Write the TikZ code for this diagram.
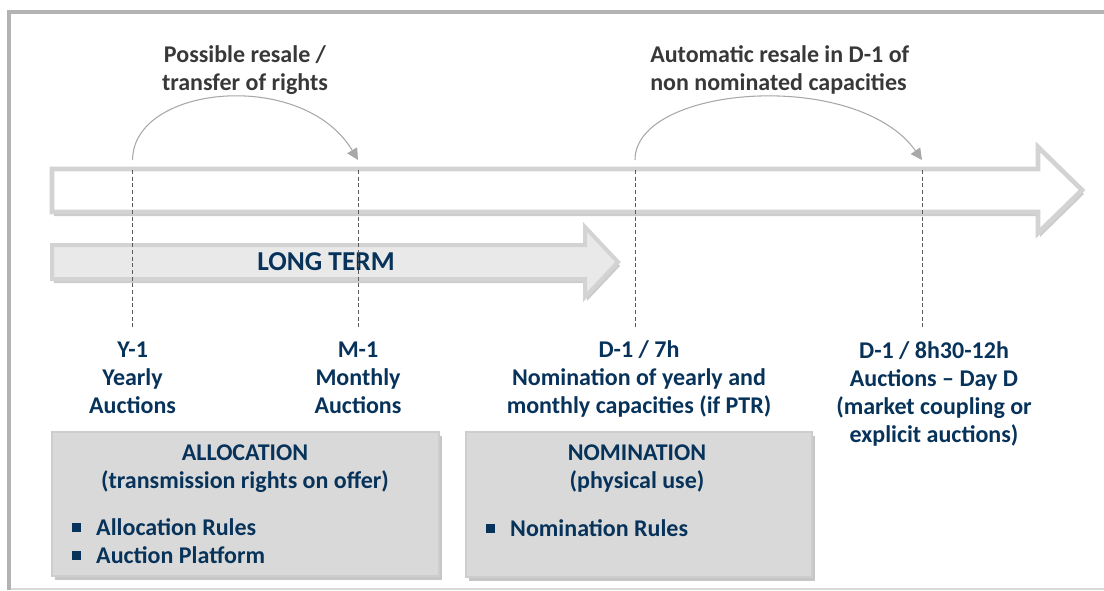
\documentclass[tikz,border=0pt]{standalone}
\usepackage{fontspec}
\setmainfont{Carlito}
\usetikzlibrary{shadows,arrows.meta}
\definecolor{navy}{HTML}{07325A}
\definecolor{darktxt}{HTML}{383838}
\definecolor{arrowline}{HTML}{D3D3D3}
\definecolor{ltfill}{HTML}{E9E9E9}
\definecolor{boxfill}{HTML}{D9D9D9}
\definecolor{boxline}{HTML}{CDCDCD}
\definecolor{framegray}{HTML}{B3B3B3}
\definecolor{arcgray}{HTML}{A8A8A8}
\definecolor{dashgray}{HTML}{5A5A5A}
\tikzset{
  lbl/.style={font=\fontsize{18}{21}\selectfont\bfseries, text=navy, align=center, inner sep=0pt},
  toptxt/.style={font=\fontsize{18}{21}\selectfont\bfseries, text=darktxt, inner sep=0pt},
  bigarrow/.style={draw=arrowline, line width=3.5pt, line join=miter, fill=white,
    drop shadow={opacity=0.4, shadow xshift=1.5pt, shadow yshift=-3pt}},
  ltarrow/.style={draw=arrowline, line width=3pt, line join=miter, fill=ltfill,
    drop shadow={opacity=0.4, shadow xshift=1.5pt, shadow yshift=-3pt}},
  dline/.style={draw=dashgray, line width=0.7pt, dash pattern=on 3pt off 2pt},
  arcarrow/.style={draw=arcgray, line width=0.8pt, -{Triangle[length=8.5pt,width=8.5pt]}},
  infobox/.style={draw=boxline, line width=1.5pt, fill=boxfill,
    drop shadow={opacity=0.45, shadow xshift=2pt, shadow yshift=-3pt}},
}
\newcommand{\sqbul}{\rule[0.15em]{0.36em}{0.36em}\hspace{11.5pt}}
\begin{document}
\begin{tikzpicture}[x=0.75pt,y=-0.75pt]
\useasboundingbox (0,0) rectangle (1104,590);
% frame
\draw[framegray, line width=3pt] (9,590) -- (9,12) -- (1104,12);
\draw[boxfill, line width=1.2pt] (11,589) -- (1104,589);
% main timeline arrow
\path[bigarrow] (52,169) -- (1038,169) -- (1038,147) -- (1082,190) -- (1038,233) -- (1038,212) -- (52,212) -- cycle;
% long term arrow
\path[ltarrow] (52,245) -- (585,245) -- (585,227) -- (618,262) -- (585,297) -- (585,279) -- (52,279) -- cycle;
\node[lbl, font=\fontsize{20.5}{24}\selectfont\bfseries] (lt) at (326,262) {LONG TERM};
% dashed lines
\coordinate (y1a) at (132.6,160); \coordinate (y1t) at (132.6,170); \coordinate (y1b) at (132.6,327);
\coordinate (m1a) at (358,160);   \coordinate (m1t) at (358,170);   \coordinate (m1b) at (358,327);
\coordinate (d7a) at (635,160);   \coordinate (d7t) at (635,170);   \coordinate (d7b) at (635,327);
\coordinate (d8a) at (922,160);   \coordinate (d8t) at (922,170);   \coordinate (d8b) at (922,327);
\draw[dline] (y1t) -- (y1b);
\draw[dline] (m1t) -- (m1b);
\draw[dline] (d7t) -- (d7b);
\draw[dline] (d8t) -- (d8b);
% arcs
\draw[arcarrow] (y1a) .. controls +(0,-75) and +(-55,-92) .. (m1a);
\draw[arcarrow] (d7a) .. controls +(0,-75) and +(-65,-92) .. (d8a);
% top texts
\node[toptxt, align=center] (t1) at (245,70) {Possible resale /\\transfer of rights};
\node[toptxt, align=left, anchor=west] (t2) at (650,70) {Automatic resale in D-1 of\\non nominated capacities};
% milestone labels
\node[lbl] (ly1) at (132.6,378) {Y-1\\Yearly\\Auctions};
\node[lbl] (lm1) at (358,378) {M-1\\Monthly\\Auctions};
\node[lbl] (ld7) at (639,379) {D-1 / 7h\\Nomination of yearly and\\monthly capacities (if PTR)};
\node[lbl] (ld8) at (934,394) {D-1 / 8h30-12h\\Auctions -- Day D\\(market coupling or\\explicit auctions)};
% boxes
\path[infobox] (52,432) rectangle (439,576);
\path[infobox] (466,432) rectangle (812,577);
\node[lbl] (alloc) at (245,469) {ALLOCATION\\(transmission rights on offer)};
\node[lbl, align=left, anchor=west] (allocl) at (72,541)
  {\sqbul Allocation Rules\\\sqbul Auction Platform};
\node[lbl, align=left, anchor=west] (noml) at (486,528)
  {\sqbul Nomination Rules};
\node[lbl] (nom) at (637,469) {NOMINATION\\(physical use)};
\end{tikzpicture}
\end{document}
